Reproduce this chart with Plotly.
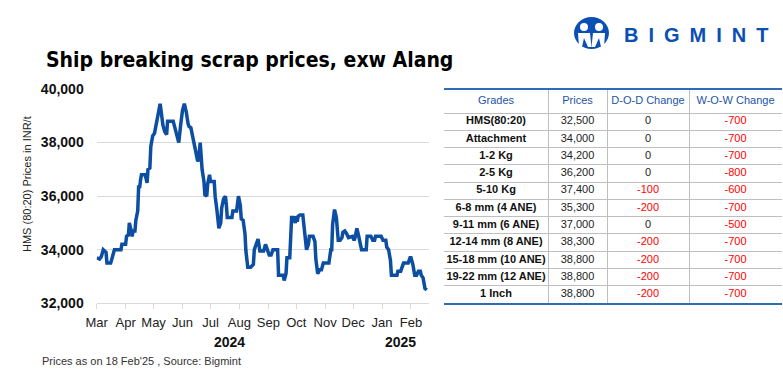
import plotly.graph_objects as go

W, H = 783, 384

# ---------------- data ----------------
dates = [
    "2024-03-01", "2024-03-04", "2024-03-06", "2024-03-08", "2024-03-11", "2024-03-12",
    "2024-03-16", "2024-03-18", "2024-03-20", "2024-03-27", "2024-03-28", "2024-04-01",
    "2024-04-02", "2024-04-04", "2024-04-05", "2024-04-07", "2024-04-08", "2024-04-09",
    "2024-04-11", "2024-04-12", "2024-04-14", "2024-04-15", "2024-04-16", "2024-04-17",
    "2024-04-18", "2024-04-22", "2024-04-24", "2024-04-25", "2024-04-27", "2024-04-28",
    "2024-04-30", "2024-05-02", "2024-05-03", "2024-05-05", "2024-05-07", "2024-05-08",
    "2024-05-09", "2024-05-11", "2024-05-13", "2024-05-15", "2024-05-16", "2024-05-22",
    "2024-05-25", "2024-05-26", "2024-05-28", "2024-05-30", "2024-06-01", "2024-06-03",
    "2024-06-05", "2024-06-07", "2024-06-08", "2024-06-10", "2024-06-12", "2024-06-14",
    "2024-06-15", "2024-06-17", "2024-06-18", "2024-06-20", "2024-06-21", "2024-06-22",
    "2024-06-24", "2024-06-25", "2024-06-27", "2024-06-28", "2024-06-30", "2024-07-01",
    "2024-07-05", "2024-07-06", "2024-07-08", "2024-07-09", "2024-07-10", "2024-07-12",
    "2024-07-13", "2024-07-15", "2024-07-17", "2024-07-18", "2024-07-19", "2024-07-24",
    "2024-07-25", "2024-07-29", "2024-07-30", "2024-07-31", "2024-08-02", "2024-08-03",
    "2024-08-05", "2024-08-07", "2024-08-08", "2024-08-10", "2024-08-13", "2024-08-16",
    "2024-08-17", "2024-08-19", "2024-08-21", "2024-08-23", "2024-08-27", "2024-08-29",
    "2024-08-31", "2024-09-02", "2024-09-04", "2024-09-06", "2024-09-11", "2024-09-12",
    "2024-09-17", "2024-09-18", "2024-09-20", "2024-09-21", "2024-09-24", "2024-09-26",
    "2024-09-28", "2024-09-30", "2024-10-01", "2024-10-02", "2024-10-03", "2024-10-05",
    "2024-10-08", "2024-10-10", "2024-10-12", "2024-10-14", "2024-10-15", "2024-10-19",
    "2024-10-21", "2024-10-22", "2024-10-24", "2024-10-26", "2024-10-28", "2024-10-30",
    "2024-11-05", "2024-11-07", "2024-11-08", "2024-11-09", "2024-11-11", "2024-11-13",
    "2024-11-15", "2024-11-17", "2024-11-19", "2024-11-20", "2024-11-22", "2024-11-24",
    "2024-11-26", "2024-11-30", "2024-12-02", "2024-12-03", "2024-12-05", "2024-12-07",
    "2024-12-09", "2024-12-10", "2024-12-15", "2024-12-16", "2024-12-20", "2024-12-22",
    "2024-12-24", "2024-12-25", "2024-12-31", "2025-01-02", "2025-01-05", "2025-01-06",
    "2025-01-08", "2025-01-10", "2025-01-11", "2025-01-17", "2025-01-18", "2025-01-21",
    "2025-01-24", "2025-01-29", "2025-01-31", "2025-02-01", "2025-02-03", "2025-02-05",
    "2025-02-07", "2025-02-09", "2025-02-11", "2025-02-12", "2025-02-14", "2025-02-16",
    "2025-02-18",
]
hms_prices = [
    33700, 33650, 33750, 34000, 33900, 33500,
    33500, 33700, 34000, 34000, 34200, 34200,
    34500, 34550, 35000, 34700, 34500, 34700,
    34700, 35100, 35450, 36400, 36300, 36600,
    36800, 36800, 36500, 37000, 37050, 37850,
    38250, 38350, 38550, 38800, 39200, 39450,
    39200, 38650, 38400, 38300, 38800, 38800,
    38400, 38300, 38000, 38650, 39200, 39450,
    39150, 38700, 38600, 38550, 38150, 37750,
    37700, 37350, 37300, 38000, 37300, 37000,
    36550, 36050, 36000, 36450, 36800, 36550,
    36550, 36000, 35450, 35050, 34800, 35000,
    35550, 35900, 36000, 35700, 35200, 35200,
    35450, 35450, 35750, 36000, 35650, 35150,
    35100, 34600, 33950, 33350, 33350, 33450,
    34000, 34200, 34400, 33950, 33950, 34200,
    33950, 33800, 33800, 34000, 34000, 33050,
    33050, 32850, 33100, 33700, 33700, 35200,
    35200, 35000, 35250, 35050, 35250, 35300,
    35300, 34600, 34000, 34200, 34500, 34500,
    34300, 33650, 33100, 33250, 33250, 33500,
    33500, 34000, 34000, 34950, 35500, 35200,
    34350, 34350, 34450, 34650, 34700, 34600,
    34450, 34500, 34350, 34450, 34800, 34500,
    34200, 34000, 34000, 34500, 34500, 34350,
    34350, 34500, 34500, 34350, 34350, 34100,
    34000, 33600, 33050, 33050, 33200, 33200,
    33500, 33500, 33700, 33700, 33450, 33050,
    33050, 33200, 33200, 33050, 32950, 32550,
    32500,
]

month_ticks = ["2024-03-01", "2024-04-01", "2024-05-01", "2024-06-01", "2024-07-01",
               "2024-08-01", "2024-09-01", "2024-10-01", "2024-11-01", "2024-12-01",
               "2025-01-01", "2025-02-01"]
month_labels = ["Mar", "Apr", "May", "Jun", "Jul", "Aug", "Sep", "Oct", "Nov", "Dec",
                "Jan", "Feb"]
year_labels = ["2024", "2025"]

table_headers = ["Grades", "Prices", "D-O-D Change", "W-O-W Change"]
grades = ["HMS(80:20)", "Attachment", "1-2 Kg", "2-5 Kg", "5-10 Kg", "6-8 mm (4 ANE)",
          "9-11 mm (6 ANE)", "12-14 mm (8 ANE)", "15-18 mm (10 ANE)", "19-22 mm (12 ANE)",
          "1 Inch"]
grade_prices = [32500, 34000, 34200, 36200, 37400, 35300, 37000, 38300, 38800, 38800, 38800]
dod_change = [0, 0, 0, 0, -100, -200, 0, -200, -200, -200, -200]
wow_change = [-700, -700, -700, -800, -600, -700, -500, -700, -700, -700, -700]

# ---------------- styling helpers ----------------
BLUE = "#0b4ea2"
TBLUE = "#2e6db4"
RED = "#ff0000"
GRID = "#d9d9d9"
TGRID = "#bfbfbf"
FONT = "Liberation Sans, Arial, sans-serif"


def px(x):
    return x / W


def py(y):
    return 1 - y / H


fig = go.Figure()

# main line
fig.add_trace(go.Scatter(
    x=dates, y=hms_prices, mode="lines",
    line=dict(color=BLUE, width=3.5), hoverinfo="skip",
    xaxis="x", yaxis="y",
))

# ---------------- table on its own axes ----------------
col_widths = [104, 59, 82, 93]
edges = [0]
for w in col_widths:
    edges.append(edges[-1] + w)
centers = [(edges[i] + edges[i + 1]) / 2 for i in range(len(col_widths))]
header_h = 23.3
n_rows = len(grades)
table_h = 213.3
row_h = (table_h - header_h) / n_rows
row_centers = [header_h + row_h * (i + 0.5) for i in range(n_rows)]
row_bounds = [header_h + row_h * i for i in range(n_rows)]

fig.add_trace(go.Scatter(
    x=centers, y=[header_h / 2] * 4, text=table_headers, mode="text",
    textfont=dict(color="#1c55a5", size=11, family=FONT),
    xaxis="x2", yaxis="y2", hoverinfo="skip",
))
fig.add_trace(go.Scatter(
    x=[centers[0]] * n_rows, y=row_centers, text=grades, mode="text",
    textfont=dict(color="#111111", size=11, family=FONT, weight="bold"),
    xaxis="x2", yaxis="y2", hoverinfo="skip",
))
fig.add_trace(go.Scatter(
    x=[centers[1]] * n_rows, y=row_centers, text=[f"{v:,}" for v in grade_prices],
    mode="text", textfont=dict(color="#222222", size=11, family=FONT),
    xaxis="x2", yaxis="y2", hoverinfo="skip",
))
fig.add_trace(go.Scatter(
    x=[centers[2]] * n_rows, y=row_centers, text=[str(v) for v in dod_change],
    mode="text",
    textfont=dict(color=["#222222" if v == 0 else RED for v in dod_change], size=11,
                  family=FONT),
    xaxis="x2", yaxis="y2", hoverinfo="skip",
))
fig.add_trace(go.Scatter(
    x=[centers[3]] * n_rows, y=row_centers, text=[str(v) for v in wow_change],
    mode="text",
    textfont=dict(color=["#222222" if v == 0 else RED for v in wow_change], size=11,
                  family=FONT),
    xaxis="x2", yaxis="y2", hoverinfo="skip",
))

# ---------------- annotations ----------------
def note(text, x, y, size, color, family=FONT, xanchor="center", **kw):
    return dict(text=text, x=px(x), y=py(y), xref="paper", yref="paper",
                xanchor=xanchor, yanchor="middle", showarrow=False,
                font=dict(size=size, color=color, family=family), **kw)


annotations = [
    note("<b>Ship breaking scrap prices, exw Alang</b>", 44, 60, 21, "#000000",
         family="DejaVu Sans Condensed, Liberation Sans Narrow, Arial Narrow, sans-serif",
         xanchor="left"),
    note("HMS (80:20) Prices in INR/t", 27, 184, 11, "#222222", textangle=-90),
    note("Prices as on 18 Feb'25 , Source: Bigmint", 40, 361, 11, "#333333",
         xanchor="left"),
    note("<b>B\u2002I\u2002G\u2002M\u2002I\u2002N\u2002T</b>", 622, 35, 20, "#0a4fb4",
         xanchor="left"),
]
for lab, xc in zip(year_labels, [229, 401]):
    annotations.append(note(f"<b>{lab}</b>", xc, 342, 14, "#111111"))

# logo shapes
shapes = [
    dict(type="circle", xref="paper", yref="paper", x0=px(574), x1=px(609), y0=py(49),
         y1=py(17), fillcolor="#0a4fb4", line=dict(width=0)),
    dict(type="circle", xref="paper", yref="paper", x0=px(580), x1=px(588), y0=py(31),
         y1=py(23), fillcolor="white", line=dict(width=0)),
    dict(type="circle", xref="paper", yref="paper", x0=px(595), x1=px(603), y0=py(31),
         y1=py(23), fillcolor="white", line=dict(width=0)),
    dict(type="path", xref="paper", yref="paper",
         path=(f"M {px(578)} {py(33)} L {px(590)} {py(33)} L {px(591.5)} {py(47)} "
               f"L {px(588)} {py(47)} L {px(584)} {py(38)} L {px(582)} {py(47)} "
               f"L {px(579)} {py(47)} Z"),
         fillcolor="white", line=dict(width=0)),
    dict(type="path", xref="paper", yref="paper",
         path=(f"M {px(593)} {py(33)} L {px(605)} {py(33)} L {px(604)} {py(47)} "
               f"L {px(601)} {py(47)} L {px(599)} {py(38)} L {px(595)} {py(47)} "
               f"L {px(591.5)} {py(47)} Z"),
         fillcolor="white", line=dict(width=0)),
]

fig.update_layout(
    width=W, height=H, margin=dict(l=0, r=0, t=0, b=0, autoexpand=False),
    paper_bgcolor="white", plot_bgcolor="white", showlegend=False,
    font=dict(family=FONT, color="#222222"),
    xaxis=dict(
        domain=[px(96.7), px(428.7)], anchor="y", type="date",
        range=["2024-03-01", "2025-02-20"],
        tickvals=month_ticks, ticktext=month_labels,
        ticks="outside", ticklen=5, tickcolor=GRID, tickwidth=1,
        showline=True, linecolor=GRID, linewidth=1,
        showgrid=False, zeroline=False, automargin=False,
        tickfont=dict(size=13, color="#222222", family=FONT),
        ticklabelstandoff=2,
    ),
    yaxis=dict(
        domain=[py(303.3), py(89)], anchor="x",
        range=[32000, 40000], dtick=2000, tick0=32000, tickformat=",",
        showgrid=True, gridcolor=GRID, gridwidth=1, zeroline=False,
        showline=False, ticks="", automargin=False,
        tickfont=dict(size=14, color="#111111", family=FONT, weight="bold"),
        ticklabelstandoff=12,
    ),
    xaxis2=dict(
        domain=[px(444), px(782)], anchor="y2", range=[0, edges[-1]],
        tickvals=edges[1:-1], showgrid=True, gridcolor=TGRID, gridwidth=1,
        showticklabels=False, ticks="", zeroline=False, automargin=False,
        showline=True, mirror=True, linecolor=TBLUE, linewidth=2,
    ),
    yaxis2=dict(
        domain=[py(303), py(89.7)], anchor="x2", range=[table_h, 0],
        tickvals=row_bounds, showgrid=True, gridcolor=TGRID, gridwidth=1,
        showticklabels=False, ticks="", zeroline=False, showline=False,
        automargin=False,
    ),
    annotations=annotations,
    shapes=shapes,
)

fig.write_html("out.html", config={"displayModeBar": False},
               post_script="document.body.style.margin='0';")
